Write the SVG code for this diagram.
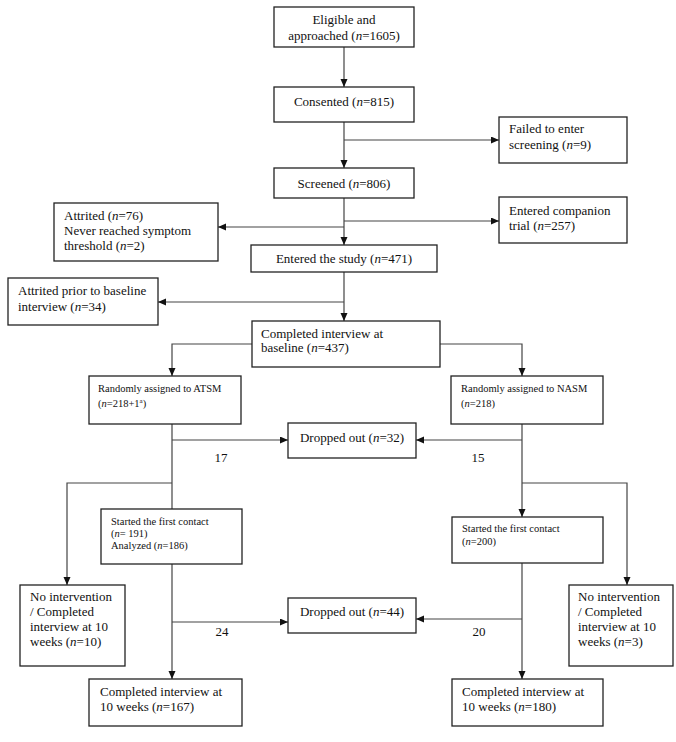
<svg xmlns="http://www.w3.org/2000/svg" width="676" height="742" viewBox="0 0 676 742">
<style>
.b{fill:#fff;stroke:#222;stroke-width:1.3}
.t{font-family:"Liberation Serif","Times New Roman",serif;font-size:13px;fill:#111}
.s{font-family:"Liberation Serif","Times New Roman",serif;font-size:10.5px;fill:#111}
.c{text-anchor:middle}
.i{font-style:italic}
#connectors path{fill:none;stroke:#444;stroke-width:1.2}
</style>
<defs>
<marker id="ah" markerUnits="userSpaceOnUse" markerWidth="9" markerHeight="8" refX="8" refY="3.5" orient="auto">
<path d="M0,0 L8,3.5 L0,7 z" fill="#111"/>
</marker>
</defs>
<rect width="676" height="742" fill="#fff"/>
<g id="connectors">
<path d="M344,47 V87" marker-end="url(#ah)"/>
<path d="M344,122 V168" marker-end="url(#ah)"/>
<path d="M344,140 H499" marker-end="url(#ah)"/>
<path d="M344,198 V245" marker-end="url(#ah)"/>
<path d="M344,221 H499" marker-end="url(#ah)"/>
<path d="M344,227 H218" marker-end="url(#ah)"/>
<path d="M344,272 V321" marker-end="url(#ah)"/>
<path d="M344,302 H158" marker-end="url(#ah)"/>
<path d="M252,344 H172 V376" marker-end="url(#ah)"/>
<path d="M440,344 H522 V376" marker-end="url(#ah)"/>
<path d="M172,424 V509"/>
<path d="M172,440 H288" marker-end="url(#ah)"/>
<path d="M172,483 H67 V585" marker-end="url(#ah)"/>
<path d="M522,424 V517" marker-end="url(#ah)"/>
<path d="M522,440 H416" marker-end="url(#ah)"/>
<path d="M522,483 H627 V585" marker-end="url(#ah)"/>
<path d="M172,564 V679" marker-end="url(#ah)"/>
<path d="M172,622 H288" marker-end="url(#ah)"/>
<path d="M522,563 V679" marker-end="url(#ah)"/>
<path d="M522,619 H416" marker-end="url(#ah)"/>
</g>
<g id="eligible"><rect class="b" x="274" y="7" width="140" height="40"/>
<text class="t c" x="344" y="24">Eligible and</text>
<text class="t c" x="344" y="40">approached (<tspan class="i">n</tspan>=1605)</text></g>
<g id="consented"><rect class="b" x="274" y="87" width="140" height="35"/>
<text class="t c" x="344" y="106">Consented (<tspan class="i">n</tspan>=815)</text></g>
<g id="failed"><rect class="b" x="499" y="117" width="128" height="46"/>
<text class="t" x="509" y="133">Failed to enter</text>
<text class="t" x="509" y="149">screening (<tspan class="i">n</tspan>=9)</text></g>
<g id="screened"><rect class="b" x="274" y="168" width="140" height="30"/>
<text class="t c" x="344" y="188">Screened (<tspan class="i">n</tspan>=806)</text></g>
<g id="companion"><rect class="b" x="499" y="197" width="128" height="46"/>
<text class="t" x="509" y="215">Entered companion</text>
<text class="t" x="509" y="230">trial (<tspan class="i">n</tspan>=257)</text></g>
<g id="attrited"><rect class="b" x="54" y="203" width="164" height="58"/>
<text class="t" x="64" y="220">Attrited (<tspan class="i">n</tspan>=76)</text>
<text class="t" x="64" y="235">Never reached symptom</text>
<text class="t" x="64" y="250">threshold (<tspan class="i">n</tspan>=2)</text></g>
<g id="entered"><rect class="b" x="251" y="245" width="186" height="27"/>
<text class="t c" x="344" y="263">Entered the study (<tspan class="i">n</tspan>=471)</text></g>
<g id="attrited-prior"><rect class="b" x="8" y="278" width="150" height="47"/>
<text class="t" x="18" y="295">Attrited prior to baseline</text>
<text class="t" x="18" y="311">interview (<tspan class="i">n</tspan>=34)</text></g>
<g id="baseline"><rect class="b" x="252" y="321" width="188" height="46"/>
<text class="t" x="261" y="338">Completed interview at</text>
<text class="t" x="261" y="352">baseline (<tspan class="i">n</tspan>=437)</text></g>
<g id="atsm"><rect class="b" x="89" y="376" width="152" height="48"/>
<text class="s" x="98" y="392">Randomly assigned to ATSM</text>
<text class="s" x="98" y="407">(<tspan class="i">n</tspan>=218+1<tspan font-size="7" baseline-shift="super">a</tspan>)</text></g>
<g id="nasm"><rect class="b" x="451" y="376" width="152" height="48"/>
<text class="s" x="461" y="392">Randomly assigned to NASM</text>
<text class="s" x="461" y="407">(<tspan class="i">n</tspan>=218)</text></g>
<g id="dropped32"><rect class="b" x="288" y="423" width="128" height="35"/>
<text class="t c" x="352" y="442">Dropped out (<tspan class="i">n</tspan>=32)</text></g>
<text class="t c" x="221" y="462">17</text>
<text class="t c" x="478" y="462">15</text>
<g id="started-atsm"><rect class="b" x="101" y="509" width="141" height="55"/>
<text class="s" x="111" y="525">Started the first contact</text>
<text class="s" x="111" y="537">(<tspan class="i">n</tspan>= 191)</text>
<text class="s" x="111" y="549">Analyzed (<tspan class="i">n</tspan>=186)</text></g>
<g id="started-nasm"><rect class="b" x="452" y="517" width="151" height="46"/>
<text class="s" x="462" y="532">Started the first contact</text>
<text class="s" x="462" y="545">(<tspan class="i">n</tspan>=200)</text></g>
<g id="nointervention-atsm"><rect class="b" x="20" y="585" width="105" height="81"/>
<text class="t" x="30" y="601">No intervention</text>
<text class="t" x="30" y="616">/ Completed</text>
<text class="t" x="30" y="631">interview at 10</text>
<text class="t" x="30" y="646">weeks (<tspan class="i">n</tspan>=10)</text></g>
<g id="nointervention-nasm"><rect class="b" x="569" y="585" width="104" height="81"/>
<text class="t" x="578" y="601">No intervention</text>
<text class="t" x="578" y="616">/ Completed</text>
<text class="t" x="578" y="631">interview at 10</text>
<text class="t" x="578" y="646">weeks (<tspan class="i">n</tspan>=3)</text></g>
<g id="dropped44"><rect class="b" x="288" y="598" width="128" height="35"/>
<text class="t c" x="352" y="616">Dropped out (<tspan class="i">n</tspan>=44)</text></g>
<text class="t c" x="222" y="636">24</text>
<text class="t c" x="479" y="636">20</text>
<g id="completed-atsm"><rect class="b" x="89" y="679" width="153" height="47"/>
<text class="t" x="100" y="696">Completed interview at</text>
<text class="t" x="100" y="711">10 weeks (<tspan class="i">n</tspan>=167)</text></g>
<g id="completed-nasm"><rect class="b" x="452" y="679" width="151" height="47"/>
<text class="t" x="462" y="696">Completed interview at</text>
<text class="t" x="462" y="711">10 weeks (<tspan class="i">n</tspan>=180)</text></g>
</svg>
